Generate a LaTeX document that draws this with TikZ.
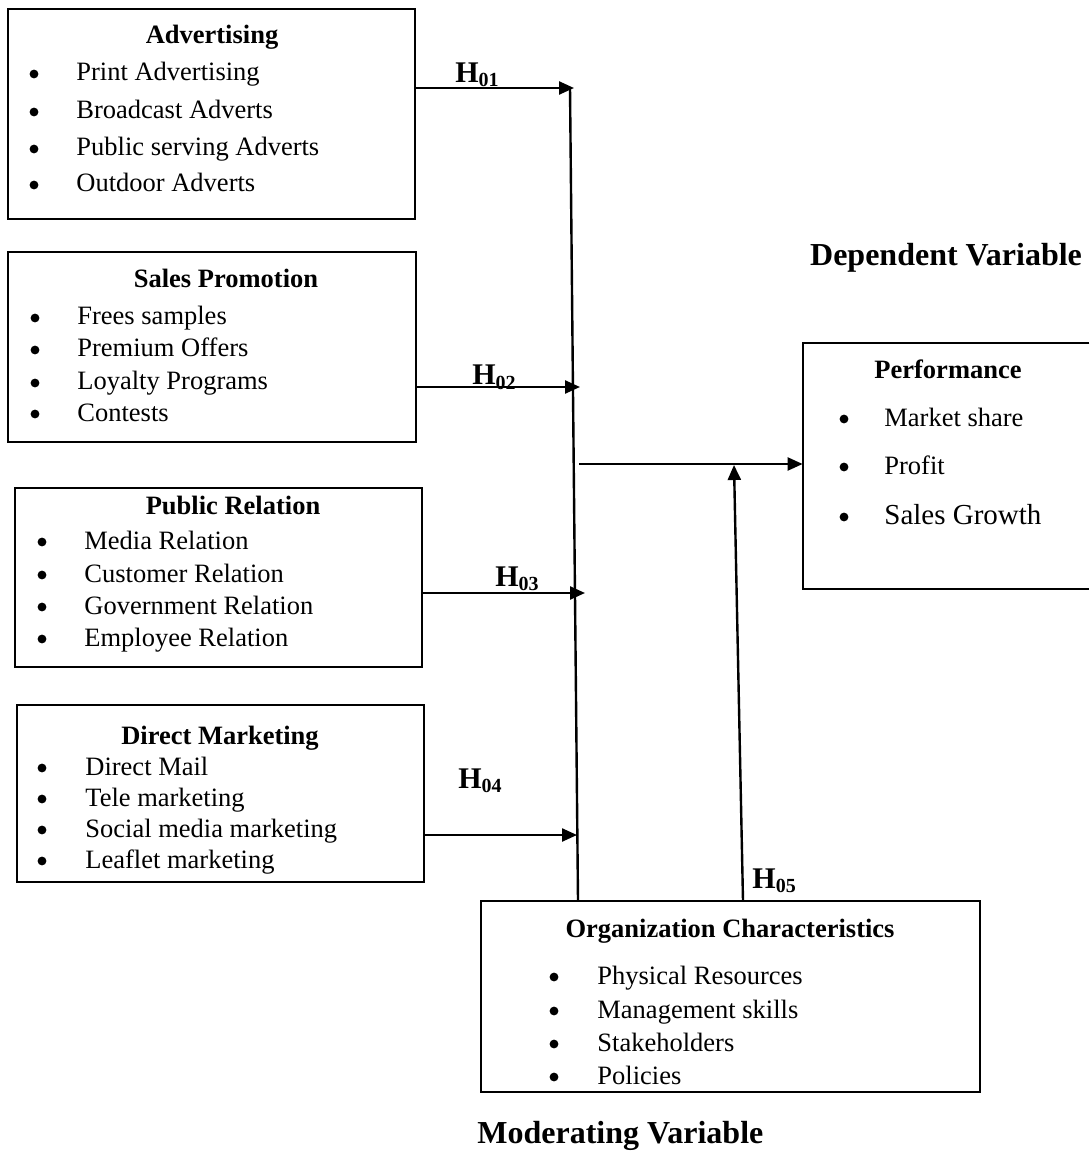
\documentclass[tikz,border=0pt]{standalone}
\usepackage{fontspec}
\setmainfont{Liberation Serif}
\usetikzlibrary{arrows.meta,fit}
\newcommand\hsub[1]{\raisebox{-2pt}{\fontsize{10}{12}\selectfont #1}}
\begin{document}
\begin{tikzpicture}[x=0.5pt,y=-0.5pt,
  box/.style={draw, line width=1pt, inner sep=0pt},
  ttl/.style={font=\fontsize{13.25}{15}\selectfont\bfseries, inner sep=0pt, anchor=base, yshift=-4.5pt},
  itm/.style={font=\fontsize{13.25}{15}\selectfont, inner sep=0pt, anchor=base west, yshift=-4.5pt},
  bul/.style={circle, fill, inner sep=0pt, minimum size=4.4pt, yshift=-1pt},
  conn/.style={line width=1.2pt},
  arr/.style={conn, -{Triangle[length=7.5pt,width=6.5pt]}},
  hyp/.style={font=\fontsize{15}{18}\selectfont\bfseries, inner sep=0pt, anchor=base west},
  lbl/.style={font=\fontsize{16}{19}\selectfont\bfseries, inner sep=0pt}]
\useasboundingbox (0,0) rectangle (1089,1154);

% boxes
\node[box, fit={(8,9) (415,219)}] (adv) {};
\node[box, fit={(8,252) (416,442)}] (sp) {};
\node[box, fit={(15,488) (422,667)}] (pr) {};
\node[box, fit={(17,705) (424,882)}] (dm) {};
\node[box, fit={(481,901) (980,1092)}] (org) {};
\node[inner sep=0pt, fit={(803,343) (1089,589)}] (perf) {};
\draw[line width=1pt] (perf.north east) -- (perf.north west) -- (perf.south west) -- (perf.south east);

% titles
\node[ttl] (adv-t) at (212,35) {Advertising};
\node[ttl] (sp-t) at (226,279) {Sales Promotion};
\node[ttl] (pr-t) at (233,505) {Public Relation};
\node[ttl] (dm-t) at (220,735) {Direct Marketing};
\node[ttl] (perf-t) at (948,370) {Performance};
\node[ttl] (org-t) at (730,928) {Organization Characteristics};

% items
\foreach \y/\t [count=\i] in {72/Print Advertising, 110/Broadcast Adverts, 147/Public serving Adverts, 183/Outdoor Adverts}{
  \node[bul] (adv-b\i) at (34,\y) {};
  \node[itm] (adv-i\i) at (76,\y) {\t};
}
\foreach \y/\t [count=\i] in {316/Frees samples, 348/Premium Offers, 381/Loyalty Programs, 412/Contests}{
  \node[bul] (sp-b\i) at (35,\y) {};
  \node[itm] (sp-i\i) at (77,\y) {\t};
}
\foreach \y/\t [count=\i] in {540/Media Relation, 573/Customer Relation, 605/Government Relation, 637/Employee Relation}{
  \node[bul] (pr-b\i) at (42,\y) {};
  \node[itm] (pr-i\i) at (84,\y) {\t};
}
\foreach \y/\t [count=\i] in {766/Direct Mail, 797/Tele marketing, 828/Social media marketing, 859/Leaflet marketing}{
  \node[bul] (dm-b\i) at (42,\y) {};
  \node[itm] (dm-i\i) at (85,\y) {\t};
}
\foreach \y/\t [count=\i] in {975/Physical Resources, 1009/Management skills, 1042/Stakeholders, 1075/Policies}{
  \node[bul] (org-b\i) at (554,\y) {};
  \node[itm] (org-i\i) at (597,\y) {\t};
}
\node[bul] (perf-b1) at (844,417) {};
\node[itm] (perf-i1) at (884,417) {Market share};
\node[bul] (perf-b2) at (844,465) {};
\node[itm] (perf-i2) at (884,465) {Profit};
\node[bul] (perf-b3) at (844,515) {};
\node[itm, font=\fontsize{14.5}{17}\selectfont] (perf-i3) at (884,515) {Sales Growth};

% connectors
\coordinate (vt) at (570,88);
\coordinate (vb) at (578,901);
\draw[conn] (vt) -- (vb);
\coordinate (j1) at (574,88);
\coordinate (j2) at (580,387);
\coordinate (j3) at (585,593);
\coordinate (j4) at (577,835);
\draw[arr] (adv.east |- j1) -- (j1);
\draw[arr] (sp.east |- j2) -- (j2);
\draw[arr] (pr.east |- j3) -- (j3);
\draw[arr] (dm.east |- j4) -- (j4);
\coordinate (m0) at (579,464);
\draw[arr] (m0) -- (perf.west |- m0);
\coordinate (h5s) at (743,901);
\coordinate (h5e) at (734,465);
\draw[arr] (h5s) -- (h5e);

% hypothesis labels
\node[hyp] (h1) at (455,83) {H\hsub{01}};
\node[hyp] (h2) at (472,385) {H\hsub{02}};
\node[hyp] (h3) at (495,586) {H\hsub{03}};
\node[hyp] (h4) at (458,788) {H\hsub{04}};
\node[hyp] (h5) at (752,888) {H\hsub{05}};

% variable labels
\node[lbl] (dep) at (946,258) {Dependent Variable};
\node[lbl, anchor=west] (mod) at (477,1136) {Moderating Variable};
\end{tikzpicture}
\end{document}
